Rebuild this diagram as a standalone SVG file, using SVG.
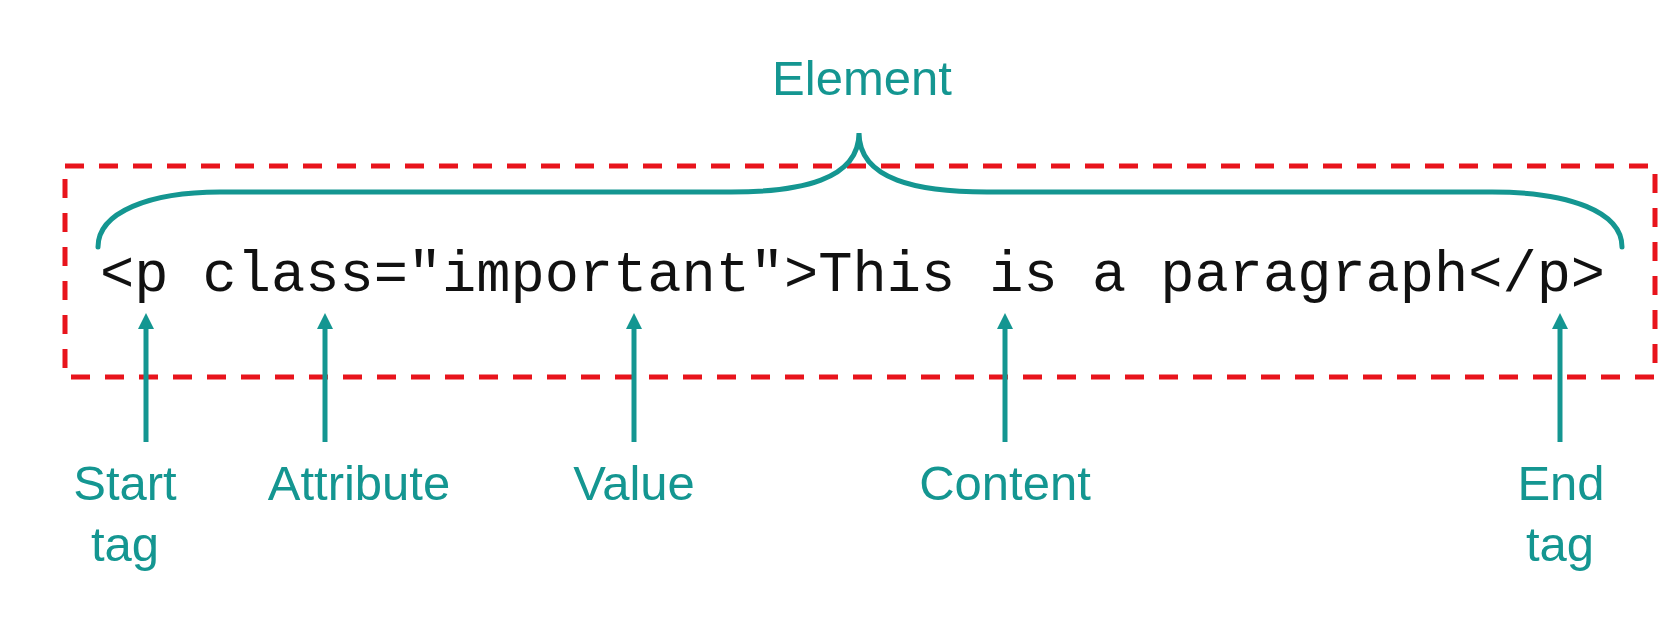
<svg xmlns="http://www.w3.org/2000/svg" width="1677" height="630" viewBox="0 0 1677 630">
  <style>
    .lbl { font-family: "Liberation Sans", Arial, sans-serif; font-size: 49px; fill: #149691; text-anchor: middle; }
    .code { font-family: "Liberation Mono", "Courier New", monospace; font-size: 57px; fill: #111111; }
    .conn { stroke: #149691; stroke-width: 5; fill: none; }
    .brace { stroke: #149691; stroke-width: 5; fill: none; stroke-linecap: round; }
    .box { stroke: #e8141c; stroke-width: 5; fill: none; stroke-dasharray: 19 15; }
  </style>
  <defs>
    <marker id="head" viewBox="0 0 16 16" refX="0" refY="8" markerWidth="16" markerHeight="16" markerUnits="userSpaceOnUse" orient="auto">
      <path d="M0,0 L16,8 L0,16 z" fill="#149691"/>
    </marker>
  </defs>
  <rect width="1677" height="630" fill="#ffffff"/>

  <g id="element-box">
    <rect class="box" x="65" y="166" width="1590" height="211"/>
  </g>

  <g id="element">
    <text class="lbl" x="862" y="95" style="font-size:49px">Element</text>
    <path class="brace" d="M98,247 C98,212 150,192 220,192 L731,192 C800,192 859,180 859,133 C859,180 918,192 987,192 L1492,192 C1570,192 1622,212 1622,247"/>
  </g>

  <g id="code">
    <text class="code" x="100" y="291" xml:space="preserve">&lt;p class="important"&gt;This is a paragraph&lt;/p&gt;</text>
  </g>

  <g id="connectors">
    <line class="conn" x1="146" y1="442" x2="146" y2="329" marker-end="url(#head)"/>
    <line class="conn" x1="325" y1="442" x2="325" y2="329" marker-end="url(#head)"/>
    <line class="conn" x1="634" y1="442" x2="634" y2="329" marker-end="url(#head)"/>
    <line class="conn" x1="1005" y1="442" x2="1005" y2="329" marker-end="url(#head)"/>
    <line class="conn" x1="1560" y1="442" x2="1560" y2="329" marker-end="url(#head)"/>
  </g>

  <g id="start-tag">
    <text class="lbl" x="125" y="500">Start</text>
    <text class="lbl" x="125" y="561">tag</text>
  </g>
  <g id="attribute">
    <text class="lbl" x="359" y="500">Attribute</text>
  </g>
  <g id="value">
    <text class="lbl" x="634" y="500">Value</text>
  </g>
  <g id="content">
    <text class="lbl" x="1005" y="500">Content</text>
  </g>
  <g id="end-tag">
    <text class="lbl" x="1561" y="500">End</text>
    <text class="lbl" x="1560" y="561">tag</text>
  </g>
</svg>
